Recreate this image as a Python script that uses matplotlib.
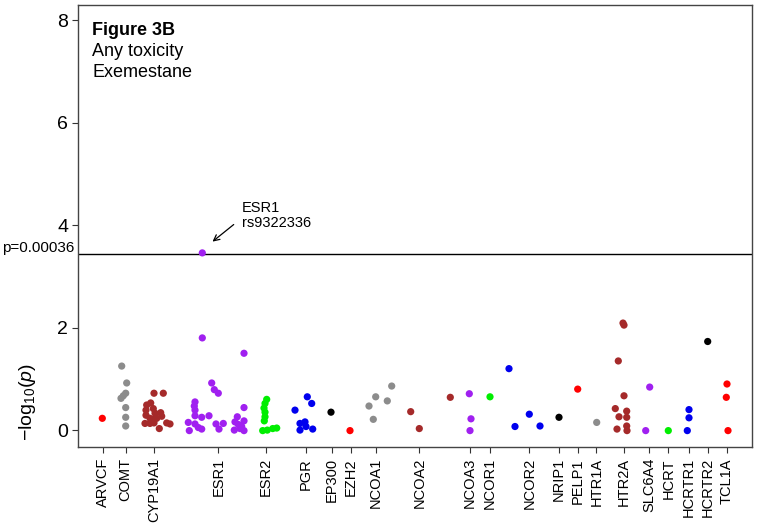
import matplotlib
matplotlib.use("Agg")
import matplotlib.pyplot as plt
import numpy as np

plt.rcParams['font.family'] = ['Liberation Sans', 'DejaVu Sans']
plt.rcParams['mathtext.fontset'] = 'custom'
plt.rcParams['mathtext.rm'] = 'Liberation Sans'
plt.rcParams['mathtext.it'] = 'Liberation Sans:italic'

# ---- data (position along chromosome-ordered SNP axis, -log10 p) ----
genes = ["ARVCF", "COMT", "CYP19A1", "ESR1", "ESR2", "PGR", "EP300", "EZH2",
         "NCOA1", "NCOA2", "NCOA3", "NCOR1", "NCOR2", "NRIP1", "PELP1", "HTR1A",
         "HTR2A", "SLC6A4", "HCRT", "HCRTR1", "HCRTR2", "TCL1A"]
gene_pos = [102.7, 125.7, 154, 218.3, 265.7, 305.7, 331.7, 350.7, 376, 419.3,
            470, 490, 529.3, 559, 577.7, 596.3, 623.5, 649.3, 668.3, 689, 707.7, 727]
palette = ["#FF0000", "#8C8C8C", "#A52A2A", "#A020F0", "#00EE00", "#0000EE", "#000000"]

arvcf_x = [102.3]; arvcf_y = [0.23]
comt_x = [121.7, 126.7, 125.7, 123.3, 121, 125.7, 125.7, 125.7]
comt_y = [1.25, 0.92, 0.72, 0.67, 0.62, 0.44, 0.25, 0.08]
cyp19a1_x = [154, 163.3, 150.7, 146.7, 146, 153.3, 155, 160.7, 146, 150, 153.3, 156.7,
             161.7, 145, 150, 154, 166.7, 170, 159.3]
cyp19a1_y = [0.72, 0.72, 0.53, 0.49, 0.39, 0.42, 0.33, 0.34, 0.29, 0.23, 0.21, 0.23,
             0.27, 0.13, 0.13, 0.14, 0.14, 0.12, 0.03]
esr1_x = [202.3, 202.3, 244, 211.7, 214.3, 218.3, 195, 194.3, 195, 195, 201.7, 209,
          188.3, 195, 198.3, 201.7, 189.3, 216, 219, 223.3, 244, 237.3, 244, 235,
          238.3, 241.7, 234.3, 244, 240]
esr1_y = [3.46, 1.80, 1.50, 0.92, 0.79, 0.72, 0.55, 0.47, 0.39, 0.28, 0.25, 0.28,
          0.15, 0.12, 0.05, 0.02, -0.01, 0.12, 0.02, 0.13, 0.44, 0.26, 0.18, 0.16,
          0.11, 0.07, 0.0, -0.01, 0.03]
esr2_x = [266.7, 265, 264, 265, 265, 264.3, 262.7, 267.3, 272.7, 276.7]
esr2_y = [0.60, 0.52, 0.43, 0.35, 0.26, 0.18, -0.01, 0.0, 0.03, 0.04]
pgr_x = [307.3, 311.7, 295, 305, 300, 306, 300, 312.7]
pgr_y = [0.65, 0.52, 0.39, 0.16, 0.13, 0.07, 0.0, 0.02]
ep300_x = [331]; ep300_y = [0.35]
ezh2_x = [350]; ezh2_y = [-0.01]
ncoa1_x = [391.7, 375.7, 387.3, 369, 373.3]; ncoa1_y = [0.86, 0.65, 0.57, 0.47, 0.21]
ncoa2_x = [410.7, 419.3, 450.3]; ncoa2_y = [0.36, 0.03, 0.64]
ncoa3_x = [469.3, 471, 470]; ncoa3_y = [0.71, 0.22, -0.01]
ncor1_x = [490]; ncor1_y = [0.65]
ncor2_x = [509, 529.3, 515, 540]; ncor2_y = [1.20, 0.31, 0.07, 0.08]
nrip1_x = [559]; nrip1_y = [0.25]
pelp1_x = [577.7]; pelp1_y = [0.80]
htr1a_x = [596.7]; htr1a_y = [0.15]
htr2a_x = [623, 624, 618.3, 624, 615.3, 626.7, 619, 626.7, 626.7, 617, 627]
htr2a_y = [2.09, 2.05, 1.35, 0.67, 0.42, 0.37, 0.26, 0.25, 0.08, 0.02, -0.01]
slc6a4_x = [649.7, 645.7]; slc6a4_y = [0.84, -0.01]
hcrt_x = [668.3]; hcrt_y = [-0.01]
hcrtr1_x = [689, 689, 687.3]; hcrtr1_y = [0.40, 0.24, -0.01]
hcrtr2_x = [707.7]; hcrtr2_y = [1.73]
tcl1a_x = [727, 726.3, 728]; tcl1a_y = [0.90, 0.64, -0.01]

series = [(arvcf_x, arvcf_y), (comt_x, comt_y), (cyp19a1_x, cyp19a1_y), (esr1_x, esr1_y),
          (esr2_x, esr2_y), (pgr_x, pgr_y), (ep300_x, ep300_y), (ezh2_x, ezh2_y),
          (ncoa1_x, ncoa1_y), (ncoa2_x, ncoa2_y), (ncoa3_x, ncoa3_y), (ncor1_x, ncor1_y),
          (ncor2_x, ncor2_y), (nrip1_x, nrip1_y), (pelp1_x, pelp1_y), (htr1a_x, htr1a_y),
          (htr2a_x, htr2a_y), (slc6a4_x, slc6a4_y), (hcrt_x, hcrt_y), (hcrtr1_x, hcrtr1_y),
          (hcrtr2_x, hcrtr2_y), (tcl1a_x, tcl1a_y)]
p_threshold = 0.00036

# ---- figure ----
fig = plt.figure(figsize=(7.62, 5.30), dpi=100)
ax = fig.add_axes([78/762, 1 - 447/530, 674/762, 442/530])

for i, (xs, ys) in enumerate(series):
    ax.scatter(xs, ys, s=27, color=palette[i % len(palette)], edgecolors='none', zorder=3)

thr = -np.log10(p_threshold)
ax.axhline(thr, color='black', lw=1.0, zorder=2)

ax.set_xlim(78, 752)
ax.set_ylim(-0.33, 8.30)
ax.set_yticks([0, 2, 4, 6, 8])
ax.set_yticklabels(['0', '2', '4', '6', '8'], fontsize=14)
ax.set_xticks(gene_pos)
ax.set_xticklabels(genes, rotation=90, fontsize=10.5)
ax.tick_params(axis='both', direction='out', length=4, width=0.8, color='#333333')
ax.tick_params(axis='y', pad=3)
ax.tick_params(axis='x', pad=4)
for sp in ax.spines.values():
    sp.set_color('#444444')
    sp.set_linewidth(1.0)

ax.text(-0.006, thr + 0.03, 'p=0.00036', transform=ax.get_yaxis_transform(),
        ha='right', va='baseline', fontsize=11)

fig.text(27/762, 1 - 402/530, r'$-\mathrm{log}_{10}(p)$', rotation=90,
         ha='center', va='center', fontsize=14)

ax.text(92, 7.71, 'Figure 3B', fontsize=13, fontweight='bold', va='baseline')
ax.text(92, 7.31, 'Any toxicity', fontsize=13, va='baseline')
ax.text(92, 6.89, 'Exemestane', fontsize=13, va='baseline')

ax.annotate('ESR1\nrs9322336', xy=(212.5, 3.68), xytext=(242, 3.90),
            fontsize=10.5, ha='left', va='bottom', linespacing=1.1,
            arrowprops=dict(arrowstyle='->', color='black', lw=0.9,
                            shrinkA=0, shrinkB=0, relpos=(-0.12, 0.2)))

fig.savefig('out.png', dpi=100)
